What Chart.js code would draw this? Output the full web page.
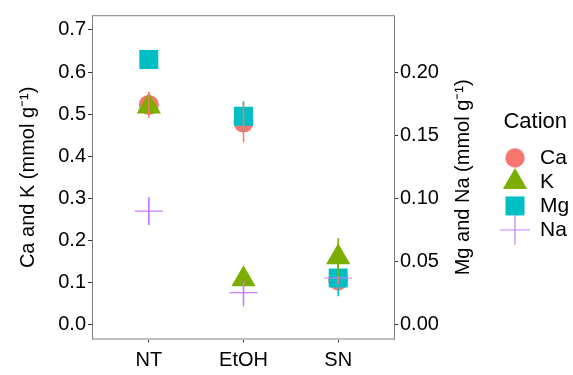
<!DOCTYPE html>
<html>
<head>
<meta charset="utf-8">
<script src="https://cdn.jsdelivr.net/npm/chart.js@4/dist/chart.umd.min.js"></script>
<style>
  html, body { margin: 0; padding: 0; background: #fff; }
  canvas { display: block; }
</style>
</head>
<body>
<canvas id="cationChart" width="573" height="375"></canvas>
<script>
// treatments on the x axis
const TREATMENTS = ['NT', 'EtOH', 'SN'];

// Ca and K, left axis (mmol/g)
const CA = [0.522, 0.48, 0.105];
const CA_ERR = [0.031, 0.047, 0.01];
const K = [0.518, 0.108, 0.16];
const K_ERR = [0.01, 0.008, 0.046];

// Mg and Na, right axis (mmol/g)
const MG = [0.21, 0.165, 0.037];
const MG_ERR = [0.005, 0.012, 0.0145];
const NA = [0.09, 0.0255, 0.037];
const NA_ERR = [0.011, 0.010, 0.004];

const LEFT_TICKS = [0, 0.1, 0.2, 0.3, 0.4, 0.5, 0.6, 0.7];
const RIGHT_TICKS = [0, 0.05, 0.10, 0.15, 0.20];

const LEFT_TITLE = 'Ca and K (mmol g\u207B\u00B9)';
const RIGHT_TITLE = 'Mg and Na (mmol g\u207B\u00B9)';

// ggplot-ish palette
const COLORS = { Ca: '#F8766D', K: '#7CAE00', Mg: '#00BFC4', Na: '#C77CFF' };

const FONT = 'Liberation Sans, Arial, sans-serif';
const LEFT_MIN = -0.035, LEFT_MAX = 0.735;   // secondary axis is primary / 3

function pts(values) {
  return values.map((v, i) => ({ x: i + 1, y: v }));
}

// legend keys drawn at the same size as the plotted symbols
function keyIcon(shape, color) {
  const c = document.createElement('canvas');
  c.width = 34; c.height = 34;
  const g = c.getContext('2d');
  const m = 17;
  g.fillStyle = color;
  g.strokeStyle = color;
  g.beginPath();
  if (shape === 'circle') {
    g.arc(m, m, 9.7, 0, Math.PI * 2);
    g.fill();
  } else if (shape === 'triangle') {
    const r = 14;
    g.moveTo(m, m - r);
    g.lineTo(m + r * 0.866, m + r / 2);
    g.lineTo(m - r * 0.866, m + r / 2);
    g.closePath();
    g.fill();
  } else if (shape === 'rect') {
    g.rect(m - 9.5, m - 9.5, 19, 19);
    g.fill();
  } else {
    g.lineWidth = 1.2;
    g.moveTo(m - 15, m); g.lineTo(m + 15, m);
    g.moveTo(m, m - 15); g.lineTo(m, m + 15);
    g.stroke();
  }
  return c;
}

const errorBars = {
  id: 'errorBars',
  afterDatasetsDraw(chart) {
    const ctx = chart.ctx;
    // Ca last so its bar sits on top
    for (let i = chart.data.datasets.length - 1; i >= 0; i--) {
      const ds = chart.data.datasets[i];
      const meta = chart.getDatasetMeta(i);
      const ys = chart.scales[ds.yAxisID];
      ctx.save();
      ctx.strokeStyle = ds.pointBorderColor;
      ctx.lineWidth = 1.5;
      meta.data.forEach((el, j) => {
        const v = ds.data[j].y, e = ds.errors[j];
        ctx.beginPath();
        ctx.moveTo(el.x, ys.getPixelForValue(v - e));
        ctx.lineTo(el.x, ys.getPixelForValue(v + e));
        ctx.stroke();
      });
      ctx.restore();
    }
  }
};

// panel border + right axis title (reads bottom to top like the left one)
const panelFrame = {
  id: 'panelFrame',
  afterDraw(chart) {
    const { ctx, chartArea: a } = chart;
    ctx.save();
    ctx.strokeStyle = '#7f7f7f';
    ctx.lineWidth = 1;
    ctx.strokeRect(a.left + 0.5, a.top + 0.5, a.right - a.left - 1, a.bottom - a.top - 1);
    ctx.translate(463, (a.top + a.bottom) / 2);
    ctx.rotate(-Math.PI / 2);
    ctx.fillStyle = '#000';
    ctx.font = '20px ' + FONT;
    ctx.textAlign = 'center';
    ctx.textBaseline = 'middle';
    ctx.fillText(RIGHT_TITLE, 0, 0);
    ctx.restore();
  }
};

const tickFont = { family: FONT, size: 20 };

new Chart(document.getElementById('cationChart'), {
  type: 'scatter',
  data: {
    datasets: [
      { label: 'Ca', data: pts(CA), errors: CA_ERR, yAxisID: 'y', order: 4,
        pointStyle: 'circle', pointRadius: 10, pointBorderWidth: 0,
        pointBackgroundColor: COLORS.Ca, pointBorderColor: COLORS.Ca, icon: keyIcon('circle', COLORS.Ca) },
      { label: 'K', data: pts(K), errors: K_ERR, yAxisID: 'y', order: 3,
        pointStyle: 'triangle', pointRadius: 14, pointBorderWidth: 0,
        pointBackgroundColor: COLORS.K, pointBorderColor: COLORS.K, icon: keyIcon('triangle', COLORS.K) },
      { label: 'Mg', data: pts(MG), errors: MG_ERR, yAxisID: 'y1', order: 2,
        pointStyle: 'rect', pointRadius: 13.4, pointBorderWidth: 0,
        pointBackgroundColor: COLORS.Mg, pointBorderColor: COLORS.Mg, icon: keyIcon('rect', COLORS.Mg) },
      { label: 'Na', data: pts(NA), errors: NA_ERR, yAxisID: 'y1', order: 1,
        pointStyle: 'cross', pointRadius: 14, pointBorderWidth: 1.2,
        pointBackgroundColor: 'transparent', pointBorderColor: COLORS.Na, icon: keyIcon('cross', COLORS.Na) }
    ]
  },
  options: {
    responsive: false,
    animation: false,
    devicePixelRatio: 1,
    layout: { padding: { top: 14, left: 0, right: 0, bottom: 0 } },
    plugins: {
      tooltip: { enabled: false },
      legend: {
        position: 'right',
        align: 'start',
        maxWidth: 75.5,
        title: {
          display: true,
          text: 'Cation',
          color: '#000',
          font: { family: FONT, size: 22 },
          padding: { top: 97, bottom: 7 }
        },
        labels: {
          usePointStyle: true,
          pointStyleWidth: 29,
          padding: 3,
          color: '#000',
          font: { family: FONT, size: 21 },
          generateLabels: chart => chart.data.datasets.map((ds, i) => ({
            text: ds.label,
            datasetIndex: i,
            pointStyle: ds.icon,
            fillStyle: COLORS[ds.label],
            strokeStyle: COLORS[ds.label],
            lineWidth: 0,
            fontColor: '#000',
            hidden: false
          }))
        }
      }
    },
    scales: {
      x: {
        type: 'linear',
        min: 0.4,
        max: 3.6,
        afterBuildTicks: s => { s.ticks = TREATMENTS.map((_, i) => ({ value: i + 1 })); },
        afterFit: s => { s.height = 35.5; },
        ticks: {
          callback: (v, i) => TREATMENTS[i],
          color: '#000',
          font: tickFont,
          padding: 6,
          maxRotation: 0,
          autoSkip: false
        },
        grid: { drawOnChartArea: false, tickLength: 3, tickColor: '#333' },
        border: { display: false }
      },
      y: {
        position: 'left',
        min: LEFT_MIN,
        max: LEFT_MAX,
        afterBuildTicks: s => { s.ticks = LEFT_TICKS.map(v => ({ value: v })); },
        afterFit: s => { s.width = 92; },
        ticks: {
          callback: v => v.toFixed(1),
          color: '#000',
          font: tickFont,
          padding: 2
        },
        grid: { drawOnChartArea: false, tickLength: 4, tickColor: '#333' },
        border: { display: false },
        title: {
          display: true,
          text: LEFT_TITLE,
          color: '#000',
          font: { family: FONT, size: 20 },
          padding: { top: 16, bottom: 0 }
        }
      },
      y1: {
        position: 'right',
        min: LEFT_MIN / 3,
        max: LEFT_MAX / 3,
        afterBuildTicks: s => { s.ticks = RIGHT_TICKS.map(v => ({ value: v })); },
        afterFit: s => { s.width = 102.5; },
        ticks: {
          callback: v => v.toFixed(2),
          color: '#000',
          font: tickFont,
          padding: 2
        },
        grid: { drawOnChartArea: false, tickLength: 3, tickColor: '#333' },
        border: { display: false }
      }
    }
  },
  plugins: [errorBars, panelFrame]
});
</script>
</body>
</html>
